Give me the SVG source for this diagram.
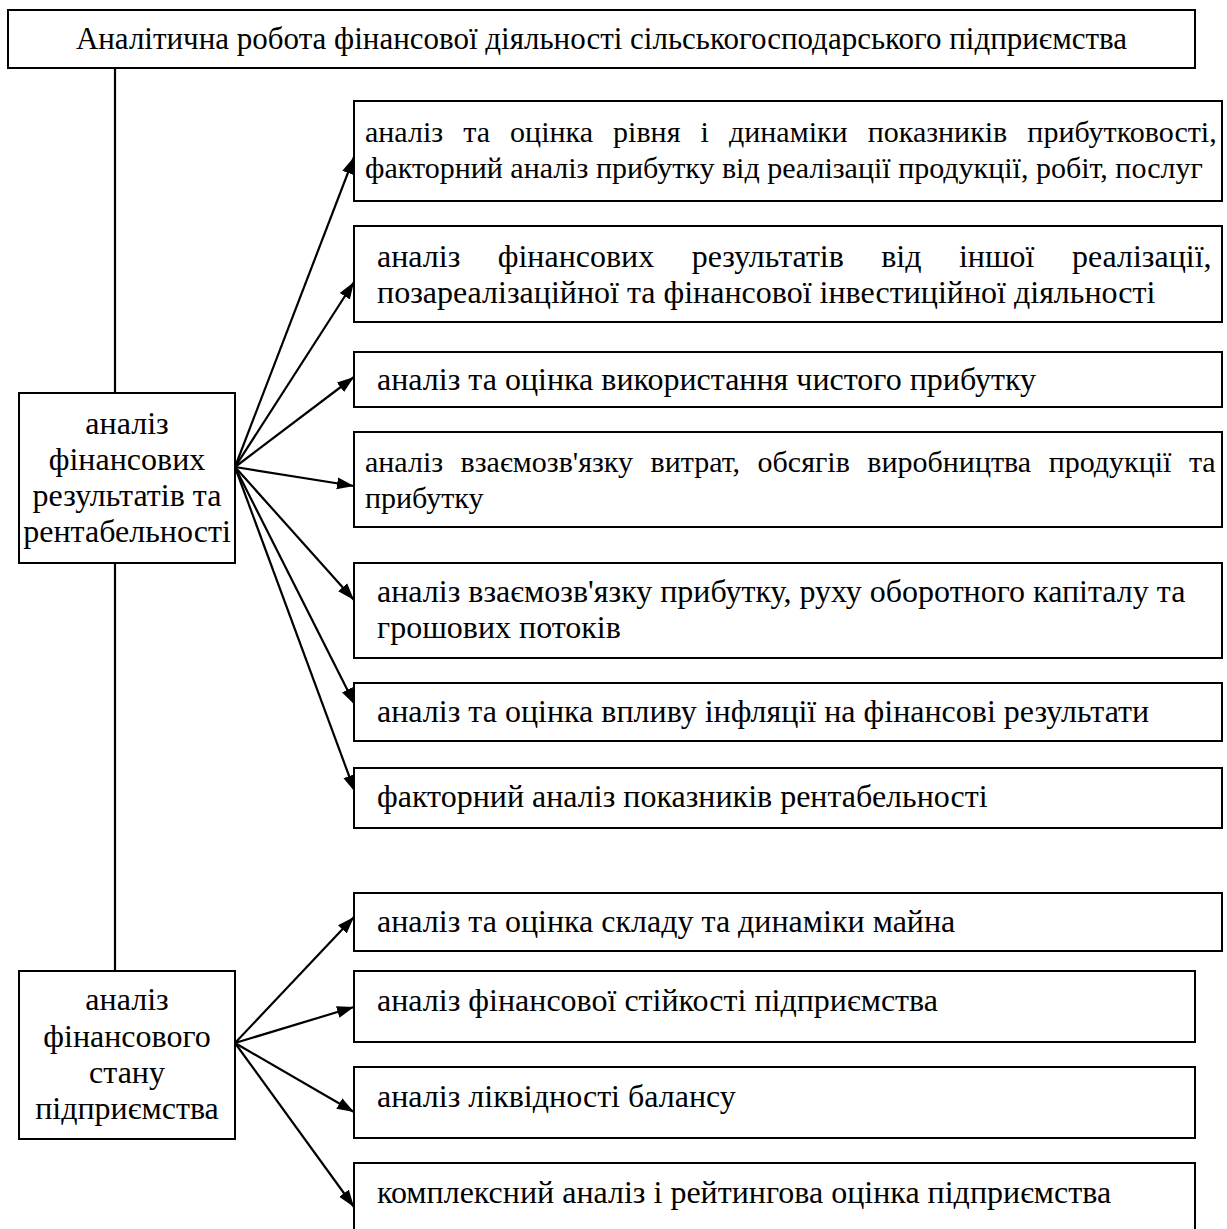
<svg xmlns="http://www.w3.org/2000/svg" width="1227" height="1229" viewBox="0 0 1227 1229">
<style>
.box{fill:#fff;stroke:#000;stroke-width:2}
.t{font-family:"Liberation Serif","Times New Roman",serif;font-size:32px;fill:#000}
.s{font-size:30px}
.h{font-size:31px}
.c{text-anchor:middle}
.ln{stroke:#000;stroke-width:2.2;fill:none}
.ar{stroke:#000;stroke-width:2.2;fill:none;marker-end:url(#ah)}
</style>
<defs>
<marker id="ah" markerUnits="userSpaceOnUse" markerWidth="18" markerHeight="13" refX="17" refY="6" orient="auto" viewBox="0 0 18 12">
<path d="M0,0 L17,6 L0,12 z" fill="#000"/>
</marker>
</defs>
<rect width="1227" height="1229" fill="#fff"/>
<g id="connectors">
<line class="ln" x1="115" y1="68" x2="115" y2="393"/>
<line class="ln" x1="115" y1="563" x2="115" y2="971"/>
<line class="ar" x1="235" y1="467" x2="354" y2="157"/>
<line class="ar" x1="235" y1="467" x2="354" y2="282"/>
<line class="ar" x1="235" y1="467" x2="354" y2="377"/>
<line class="ar" x1="235" y1="467" x2="354" y2="486"/>
<line class="ar" x1="235" y1="467" x2="354" y2="600"/>
<line class="ar" x1="235" y1="467" x2="355" y2="705"/>
<line class="ar" x1="235" y1="467" x2="355" y2="792"/>
<line class="ar" x1="235" y1="1043" x2="354" y2="917"/>
<line class="ar" x1="235" y1="1043" x2="354" y2="1007"/>
<line class="ar" x1="235" y1="1043" x2="354" y2="1112"/>
<line class="ar" x1="235" y1="1043" x2="354" y2="1207"/>
</g>
<g id="root">
<rect class="box" x="8" y="10" width="1187" height="58"/>
<text class="t h c" x="601.5" y="49">Аналітична робота фінансової діяльності сільськогосподарського підприємства</text>
</g>
<g id="left1">
<rect class="box" x="19" y="393" width="216" height="170"/>
<text class="t c" x="127" y="434">аналіз</text>
<text class="t c" x="127" y="470">фінансових</text>
<text class="t c" x="127" y="506">результатів та</text>
<text class="t c" x="127" y="542">рентабельності</text>
</g>
<g id="left2">
<rect class="box" x="19" y="971" width="216" height="168"/>
<text class="t c" x="127" y="1010">аналіз</text>
<text class="t c" x="127" y="1047">фінансового</text>
<text class="t c" x="127" y="1083">стану</text>
<text class="t c" x="127" y="1119">підприємства</text>
</g>
<g id="r1">
<rect class="box" x="354" y="101" width="868" height="100"/>
<text class="t s" x="365" y="142" word-spacing="12.6">аналіз та оцінка рівня і динаміки показників прибутковості,</text>
<text class="t s" x="365" y="178">факторний аналіз прибутку від реалізації продукції, робіт, послуг</text>
</g>
<g id="r2">
<rect class="box" x="354" y="226" width="868" height="96"/>
<text class="t" x="377" y="267" word-spacing="29.4">аналіз фінансових результатів від іншої реалізації,</text>
<text class="t" x="377" y="303">позареалізаційної та фінансової інвестиційної діяльності</text>
</g>
<g id="r3">
<rect class="box" x="354" y="352" width="868" height="55"/>
<text class="t" x="377" y="390">аналіз та оцінка використання чистого прибутку</text>
</g>
<g id="r4">
<rect class="box" x="354" y="432" width="868" height="95"/>
<text class="t s" x="365" y="472" word-spacing="10">аналіз взаємозв'язку витрат, обсягів виробництва продукції та</text>
<text class="t s" x="365" y="508">прибутку</text>
</g>
<g id="r5">
<rect class="box" x="354" y="563" width="868" height="95"/>
<text class="t" x="377" y="602">аналіз взаємозв'язку прибутку, руху оборотного капіталу та</text>
<text class="t" x="377" y="638">грошових потоків</text>
</g>
<g id="r6">
<rect class="box" x="354" y="683" width="868" height="58"/>
<text class="t" x="377" y="722">аналіз та оцінка впливу інфляції на фінансові результати</text>
</g>
<g id="r7">
<rect class="box" x="354" y="768" width="868" height="60"/>
<text class="t" x="377" y="807">факторний аналіз показників рентабельності</text>
</g>
<g id="r8">
<rect class="box" x="354" y="893" width="868" height="58"/>
<text class="t" x="377" y="932">аналіз та оцінка складу та динаміки майна</text>
</g>
<g id="r9">
<rect class="box" x="354" y="971" width="841" height="71"/>
<text class="t" x="377" y="1011">аналіз фінансової стійкості підприємства</text>
</g>
<g id="r10">
<rect class="box" x="354" y="1067" width="841" height="71"/>
<text class="t" x="377" y="1107">аналіз ліквідності балансу</text>
</g>
<g id="r11">
<rect class="box" x="354" y="1163" width="841" height="75"/>
<text class="t" x="377" y="1203">комплексний аналіз і рейтингова оцінка підприємства</text>
</g>
</svg>
